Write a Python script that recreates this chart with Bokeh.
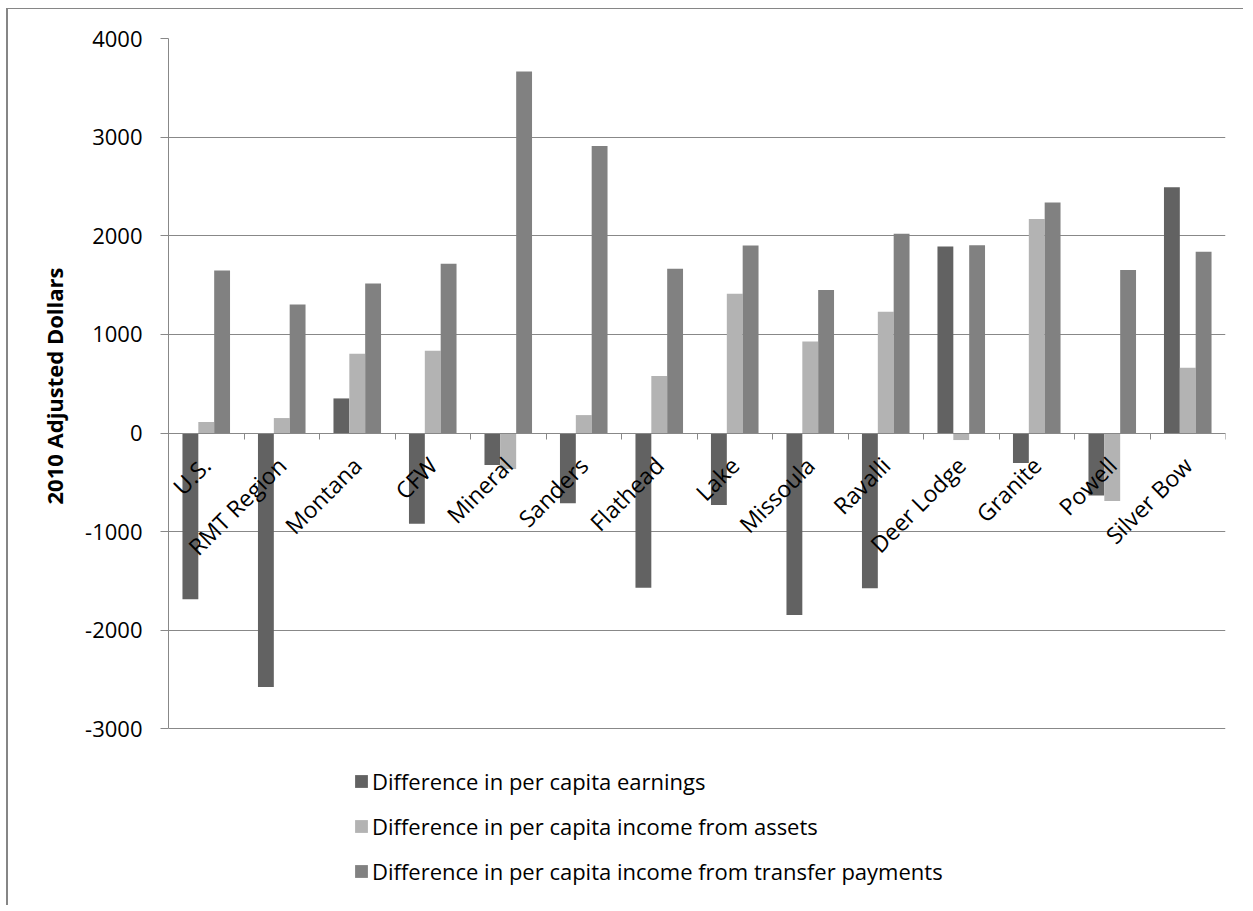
import math
from bokeh.plotting import figure
from bokeh.models import (Range1d, LinearAxis, FixedTicker, Title,
                          Legend, LegendItem, ColumnDataSource, CustomJSTickFormatter)
from bokeh.transform import dodge
from bokeh.embed import file_html
from bokeh.resources import INLINE

# ---- data ----
categories = ["U.S.", "RMT Region", "Montana", "CFW", "Mineral", "Sanders", "Flathead",
              "Lake", "Missoula", "Ravalli", "Deer Lodge", "Granite", "Powell", "Silver Bow"]
earnings = [-1686, -2574, 351, -919, -324, -713, -1568, -730, -1845, -1574, 1892, -304, -632, 2493]
assets = [111, 152, 804, 834, -365, 182, 578, 1412, 929, 1230, -71, 2169, -689, 662]
transfer = [1649, 1304, 1517, 1716, 3666, 2909, 1666, 1902, 1449, 2020, 1905, 2338, 1652, 1838]
series_names = ["Difference in per capita earnings",
                "Difference in per capita income from assets",
                "Difference in per capita income from transfer payments"]
y_ticks = [-3000, -2000, -1000, 0, 1000, 2000, 3000, 4000]
y_title = "2010 Adjusted Dollars"

colors = ["#626262", "#b3b3b3", "#818181"]
GRID = "#888888"
FONT = "Open Sans"

n = len(categories)
centers = [i + 0.5 for i in range(n)]        # category slot centres
bounds = list(range(n + 1))                  # category slot boundaries

source = ColumnDataSource(dict(pos=centers, cat=categories, earnings=earnings,
                               assets=assets, transfer=transfer))

# the frame reaches down past -3000 so the legend area sits inside it
p = figure(x_range=Range1d(0, n),
           y_range=Range1d(-4800, y_ticks[-1]),
           width=1237, height=897,
           output_backend="svg", toolbar_location=None,
           x_axis_location=None,
           min_border_left=160, min_border_right=20,
           min_border_top=29, min_border_bottom=0)
p.margin = (8, 0, 0, 6)
p.styles = {"border-left": "2px solid #868686", "border-top": "1px solid #868686"}
p.outline_line_color = None
p.background_fill_color = "white"
p.border_fill_color = "white"

# bars
bw = 0.21
r1 = p.vbar(x=dodge("pos", -bw), top="earnings", bottom=0, width=bw,
            source=source, fill_color=colors[0], line_color=None)
r2 = p.vbar(x=dodge("pos", 0), top="assets", bottom=0, width=bw,
            source=source, fill_color=colors[1], line_color=None)
r3 = p.vbar(x=dodge("pos", bw), top="transfer", bottom=0, width=bw,
            source=source, fill_color=colors[2], line_color=None)

# y axis
yax = p.yaxis[0]
yax.ticker = FixedTicker(ticks=y_ticks)
yax.major_label_overrides = {t: str(t) for t in y_ticks}
yax.bounds = (y_ticks[0], y_ticks[-1])
yax.axis_line_color = GRID
yax.major_tick_line_color = GRID
yax.major_tick_out = 8
yax.major_tick_in = 0
yax.minor_tick_line_color = None
yax.major_label_text_font = FONT
yax.major_label_text_font_size = "22px"
yax.major_label_text_color = "black"
yax.major_label_standoff = 18

# y axis title, centred on the -3000..4000 span
ytitle = Title(text=y_title, align="right", offset=229, vertical_align="middle", standoff=26,
               text_font=FONT, text_font_style="bold", text_font_size="22px", text_color="black")
p.add_layout(ytitle, "left")

p.ygrid.ticker = FixedTicker(ticks=y_ticks)
p.ygrid.grid_line_color = GRID
p.ygrid.grid_line_width = 1
for g in p.xgrid:
    g.visible = False

# category axis crossing at zero (labels at slot centres)
cax = LinearAxis(fixed_location=0, ticker=FixedTicker(ticks=centers),
                 major_label_overrides={c: name for c, name in zip(centers, categories)})
cax.axis_line_color = GRID
cax.major_tick_out = 0
cax.major_tick_in = 0
cax.major_tick_line_color = None
cax.minor_tick_line_color = None
cax.major_label_orientation = math.pi / 4
cax.major_label_text_font = FONT
cax.major_label_text_font_size = "23px"
cax.major_label_text_color = "black"
cax.major_label_standoff = 28
p.add_layout(cax, "below")

# category boundary tick marks
bax = LinearAxis(fixed_location=0, ticker=FixedTicker(ticks=bounds),
                 formatter=CustomJSTickFormatter(code="return ''"))
bax.axis_line_color = None
bax.major_tick_line_color = GRID
bax.major_tick_out = 6
bax.major_tick_in = 0
bax.minor_tick_line_color = None
p.add_layout(bax, "below")

legend = Legend(items=[LegendItem(label=series_names[0], renderers=[r1]),
                       LegendItem(label=series_names[1], renderers=[r2]),
                       LegendItem(label=series_names[2], renderers=[r3])],
                location=(185, 20), orientation="vertical",
                padding=0, margin=0, spacing=15,
                glyph_width=16, glyph_height=16, label_standoff=3, label_height=30,
                label_text_font=FONT, label_text_font_size="22px", label_text_color="black",
                border_line_color=None, background_fill_alpha=0)
p.add_layout(legend, "center")

open("out.html", "w").write(file_html(p, INLINE))
